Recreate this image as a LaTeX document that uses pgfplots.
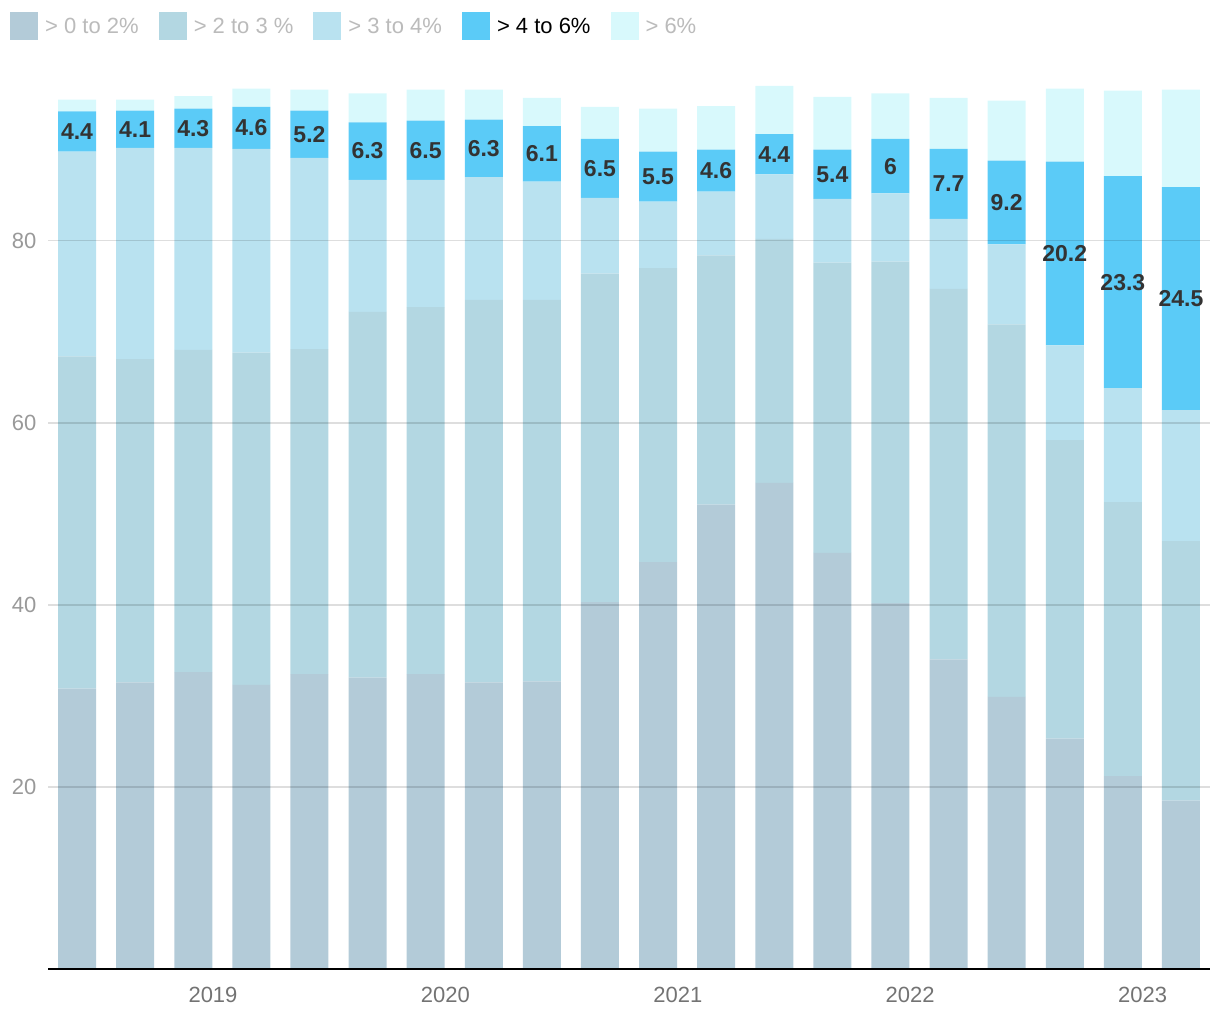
\documentclass[border=0pt]{standalone}
\usepackage{pgfplots}
\usepackage{pgfplotstable}
\pgfplotsset{compat=1.18}
\usepackage{fontspec}
\setmainfont{Liberation Sans}
\definecolor{cA}{HTML}{B3CBD8}
\definecolor{cB}{HTML}{B3D7E2}
\definecolor{cC}{HTML}{B9E2F0}
\definecolor{cD}{HTML}{5BCBF7}
\definecolor{cE}{HTML}{D8F9FC}
\definecolor{txt}{HTML}{333333}
\definecolor{lgray}{HTML}{BBBBBB}
\pgfplotstableread{
x a b c d e cy lab
0 30.8 36.5 22.5 4.4 1.3 92.0 4.4
1 31.5 35.5 23.2 4.1 1.2 92.25 4.1
2 32.6 35.4 22.2 4.3 1.4 92.35 4.3
3 31.2 36.5 22.4 4.6 2.0 92.4 4.6
4 32.4 35.7 21.0 5.2 2.3 91.7 5.2
5 32.0 40.2 14.5 6.3 3.2 89.85 6.3
6 32.4 40.3 14.0 6.5 3.4 89.95 6.5
7 31.5 42.0 13.5 6.3 3.3 90.15 6.3
8 31.6 41.9 13.0 6.1 3.1 89.55 6.1
9 40.3 36.1 8.3 6.5 3.5 87.95 6.5
10 44.7 32.3 7.3 5.5 4.7 87.05 5.5
11 51.0 27.4 7.0 4.6 4.8 87.7 4.6
12 53.4 26.8 7.1 4.4 5.3 89.5 4.4
13 45.7 31.9 7.0 5.4 5.8 87.3 5.4
14 40.2 37.5 7.5 6 5.0 88.2 6
15 34.0 40.7 7.7 7.7 5.6 86.25 7.7
16 29.9 40.9 8.8 9.2 6.6 84.2 9.2
17 25.3 32.8 10.4 20.2 8.0 78.6 20.2
18 21.2 30.1 12.5 23.3 9.4 75.45 23.3
19 18.5 28.5 14.4 24.5 10.7 73.65 24.5
}\data
\pgfplotsset{
  base/.style={
    scale only axis, width=1162pt, height=883pt,
    at={(48pt,51pt)}, anchor=south west,
    xmin=-0.5, xmax=19.5, ymin=0, ymax=97,
  }
}
\begin{document}
\begin{tikzpicture}
\useasboundingbox (0,0) rectangle (1220pt,1020pt);
\begin{axis}[base,
  ybar stacked, bar width=38pt,
  axis line style={draw=none},
  axis on top,
  ymajorgrids,
  grid style={black, opacity=0.13, line width=1.5pt},
  major tick length=0pt,
  ytick={20,40,60,80},
  extra y ticks={0}, extra y tick labels={},
  extra y tick style={grid style={black, opacity=1, line width=2pt}},
  xtick={2.34,6.34,10.34,14.34,18.34},
  xticklabels={2019,2020,2021,2022,2023},
  tick label style={font=\fontsize{22}{26}\selectfont},
  /pgf/number format/assume math mode=true,
  yticklabel style={text=black!40, xshift=-8pt},
  xticklabel style={text=black!55, yshift=-15pt},
  legend columns=5,
  legend style={at={(axis description cs:0,1)}, anchor=north west,
    xshift=-38pt, yshift=74pt, draw=none, inner sep=0pt,
    font=\fontsize{22}{26}\selectfont,
    nodes={inner sep=0pt, anchor=west},
    /tikz/every even column/.append style={column sep=20pt}},
  legend image code/.code={\fill (0pt,-14pt) rectangle (28pt,14pt);},
  legend cell align=left,
]
\addplot[fill=cA, draw=none] table[x=x, y=a] {\data};
\addplot[fill=cB, draw=none] table[x=x, y=b] {\data};
\addplot[fill=cC, draw=none] table[x=x, y=c] {\data};
\addplot[fill=cD, draw=none] table[x=x, y=d] {\data};
\addplot[fill=cE, draw=none] table[x=x, y=e] {\data};
\legend{\hspace{7pt}\textcolor{lgray}{> 0 to 2\%},\hspace{7pt}\textcolor{lgray}{> 2 to 3 \%},\hspace{7pt}\textcolor{lgray}{> 3 to 4\%},\hspace{7pt}\textcolor{black}{> 4 to 6\%},\hspace{7pt}\textcolor{lgray}{> 6\%}}
\end{axis}
\begin{axis}[base, axis lines=none, ticks=none]
\addplot[only marks, mark=none, nodes near coords, point meta=explicit symbolic,
  nodes near coords style={anchor=center, text=txt, font=\fontsize{23}{27}\selectfont\bfseries}]
  table[x=x, y=cy, meta=lab] {\data};
\end{axis}
\end{tikzpicture}
\end{document}
